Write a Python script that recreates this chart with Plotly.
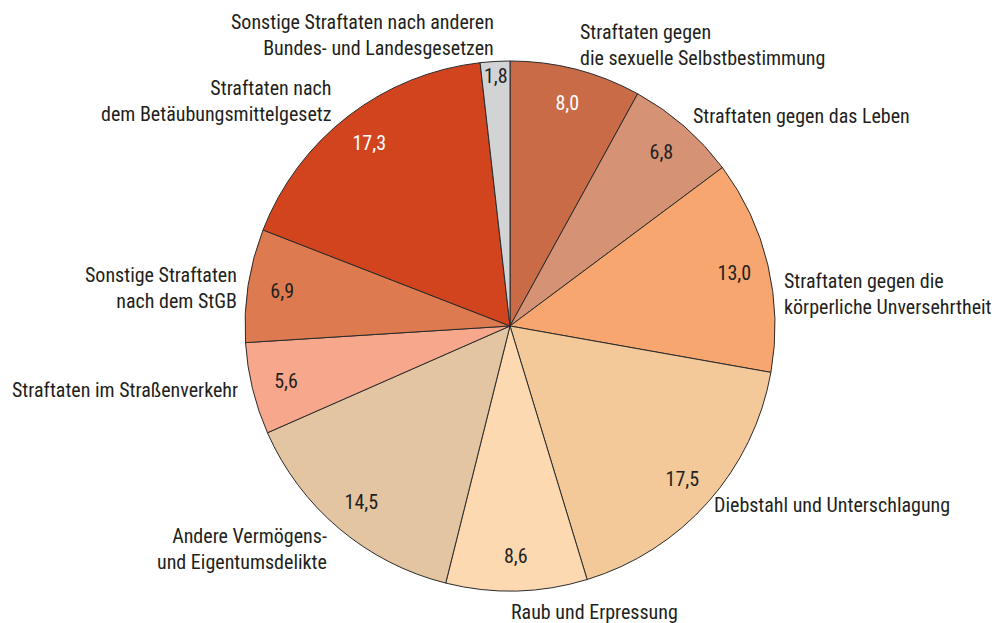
import plotly.graph_objects as go

categories = [
    "Straftaten gegen die sexuelle Selbstbestimmung",
    "Straftaten gegen das Leben",
    "Straftaten gegen die körperliche Unversehrtheit",
    "Diebstahl und Unterschlagung",
    "Raub und Erpressung",
    "Andere Vermögens- und Eigentumsdelikte",
    "Straftaten im Straßenverkehr",
    "Sonstige Straftaten nach dem StGB",
    "Straftaten nach dem Betäubungsmittelgesetz",
    "Sonstige Straftaten nach anderen Bundes- und Landesgesetzen",
]
values = [8.0, 6.8, 13.0, 17.5, 8.6, 14.5, 5.6, 6.9, 17.3, 1.8]
colors = ["#C96B46", "#D69274", "#F7A66F", "#F3C99A", "#FCD9B0",
          "#E3C6A1", "#F7A88C", "#DD7A50", "#D2441E", "#D2D3D5"]
text_colors = ["white", "#231F20", "#231F20", "#231F20", "#231F20",
               "#231F20", "#231F20", "#231F20", "white", "#231F20"]
value_labels = [f"{v:.1f}".replace(".", ",") for v in values]

FONT = "Liberation Sans Narrow, Roboto Condensed, Arial Narrow, DejaVu Sans Condensed, sans-serif"

W, H = 999, 623
cx, cy, R = 510, 326, 265
domain = dict(x=[(cx - R) / W, (cx + R) / W],
              y=[(H - cy - R) / H, (H - cy + R) / H])

# filled pie (no text)
fig = go.Figure(go.Pie(
    labels=categories,
    values=values,
    textinfo="none",
    sort=False,
    direction="clockwise",
    rotation=0,
    marker=dict(colors=colors, line=dict(color="#2b2b2b", width=1)),
    hoverinfo="label+value",
    showlegend=False,
    domain=domain,
))

# transparent ring carrying the value labels near the rim
fig.add_trace(go.Pie(
    labels=categories,
    values=values,
    text=value_labels,
    textinfo="text",
    textposition="inside",
    insidetextorientation="horizontal",
    hole=0.74,
    sort=False,
    direction="clockwise",
    rotation=0,
    marker=dict(colors=["rgba(0,0,0,0)"] * len(values), line=dict(width=0)),
    textfont=dict(family=FONT, size=20, color=text_colors),
    hoverinfo="skip",
    showlegend=False,
    domain=domain,
))

# outside labels: (text, x_px, y_px_top, anchor)
outside = [
    ("Straftaten gegen<br>die sexuelle Selbstbestimmung", 578, 18, "left"),
    ("Straftaten gegen das Leben", 691, 102, "left"),
    ("Straftaten gegen die<br>körperliche Unversehrtheit", 782, 267, "left"),
    ("Diebstahl und Unterschlagung", 712, 491, "left"),
    ("Raub und Erpressung", 509, 598, "left"),
    ("Andere Vermögens-<br>und Eigentumsdelikte", 329, 522, "right"),
    ("Straftaten im Straßenverkehr", 240, 376, "right"),
    ("Sonstige Straftaten<br>nach dem StGB", 239, 261, "right"),
    ("Straftaten nach<br>dem Betäubungsmittelgesetz", 334, 74, "right"),
    ("Sonstige Straftaten nach anderen<br>Bundes- und Landesgesetzen", 496, 8, "right"),
]
for txt, x, y, anchor in outside:
    fig.add_annotation(
        text=txt, x=x / W, y=1 - y / H, xref="paper", yref="paper",
        xanchor=anchor, yanchor="top", align=anchor, showarrow=False,
        font=dict(family=FONT, size=20, color="#231F20"),
    )

fig.update_layout(
    width=W, height=H,
    margin=dict(l=0, r=0, t=0, b=0),
    paper_bgcolor="white",
    plot_bgcolor="white",
    uniformtext=dict(minsize=20, mode="show"),
)

fig.write_html("out.html",
               config={"displayModeBar": False},
               post_script="document.body.style.margin='0';document.body.style.overflow='hidden';")
